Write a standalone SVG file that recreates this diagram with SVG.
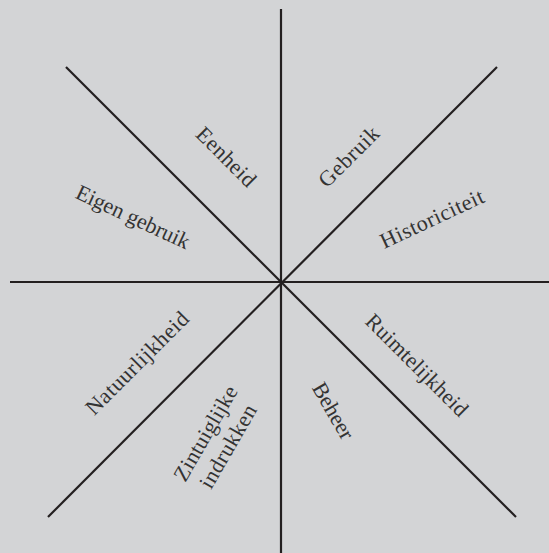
<svg xmlns="http://www.w3.org/2000/svg" width="549" height="553" viewBox="0 0 549 553">
<style>
.ln{stroke:#231f20;stroke-width:2.2;fill:none}
.lb{font-family:"Liberation Serif","Times New Roman",serif;font-size:22px;fill:#333;text-anchor:middle}
</style>
<rect width="549" height="553" fill="#d3d4d6"/>
<g id="connectors">
<line class="ln" x1="281" y1="9" x2="281" y2="553"/>
<line class="ln" x1="10" y1="282" x2="549" y2="282"/>
<line class="ln" x1="66" y1="67" x2="516" y2="517"/>
<line class="ln" x1="497" y1="67" x2="48" y2="517"/>
</g>
<g id="eenheid" transform="translate(226,157) rotate(45)"><text class="lb" y="7" textLength="75" lengthAdjust="spacing">Eenheid</text></g>
<g id="gebruik" transform="translate(349,157) rotate(-45)"><text class="lb" y="7" textLength="76" lengthAdjust="spacing">Gebruik</text></g>
<g id="eigen-gebruik" transform="translate(132,219) rotate(25)"><text class="lb" y="5" textLength="123" lengthAdjust="spacing">Eigen gebruik</text></g>
<g id="historiciteit" transform="translate(432,219) rotate(-25)"><text class="lb" y="7" textLength="112" lengthAdjust="spacing">Historiciteit</text></g>
<g id="natuurlijkheid" transform="translate(138,364) rotate(-45)"><text class="lb" y="6" textLength="136" lengthAdjust="spacing">Natuurlijkheid</text></g>
<g id="ruimtelijkheid" transform="translate(416,366) rotate(45)"><text class="lb" y="6" textLength="135" lengthAdjust="spacing">Ruimtelijkheid</text></g>
<g id="beheer" transform="translate(333,411) rotate(60)"><text class="lb" y="7" textLength="62" lengthAdjust="spacing">Beheer</text></g>
<g id="zintuiglijke-indrukken" transform="translate(217,440) rotate(-60)"><text class="lb" y="-6" textLength="106" lengthAdjust="spacing">Zintuiglijke</text><text class="lb" y="20" textLength="93" lengthAdjust="spacing">indrukken</text></g>
</svg>
